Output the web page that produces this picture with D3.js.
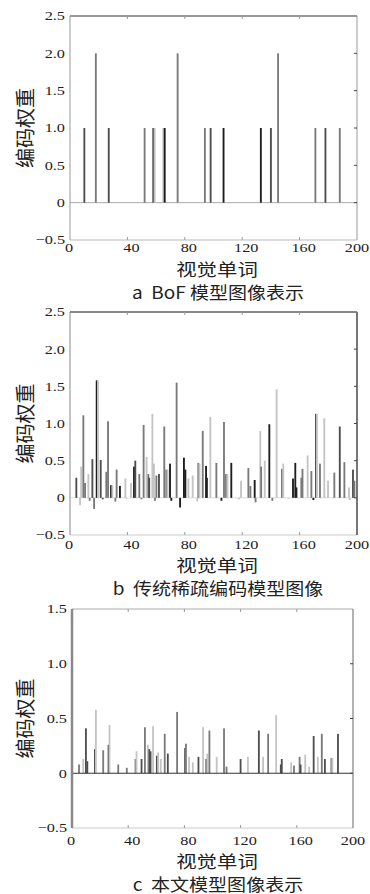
<!DOCTYPE html>
<html>
<head>
<meta charset="utf-8">
<script src="https://cdn.jsdelivr.net/npm/d3@7"></script>
<style>
  html, body { margin: 0; padding: 0; background: #fff; }
  svg { display: block; }
  .num { font-family: 'Liberation Serif', 'DejaVu Serif', serif; }
  .cjk { font-family: 'Noto Sans CJK SC', sans-serif; }
</style>
</head>
<body>
<div id="chart"></div>
<script>
// shade codes: 0 black, 1 dark gray, 2 mid gray, 3 light gray
const shadeColors = ['#1e1e1e', '#4e4e4e', '#7a7a7a', '#c4c4c4'];

const xTicks = [0, 40, 80, 120, 160, 200];
const yTicksAB = [-0.5, 0, 0.5, 1.0, 1.5, 2.0, 2.5];
const yTicksC = [-0.5, 0, 0.5, 1.0, 1.5];

// panel a: BoF
const aWords   = [10, 18, 27, 52, 58, 59, 65, 66, 75, 94, 98, 107, 133, 140, 145, 171, 178, 188];
const aWeights = [1, 2, 1, 1, 1, 1, 1, 1, 2, 1, 1, 1, 1, 1, 2, 1, 1, 1];
const aShades  = [1, 2, 1, 2, 1, 3, 3, 0, 2, 2, 1, 0, 0, 1, 2, 2, 1, 2];

// panel b: traditional sparse coding
const bWords = [4.4, 7, 7.8, 9.3, 10.5, 12.8, 13.7, 15.6, 16.8, 18.6, 19.5, 21.4, 22.8, 25.3, 26.5, 28.6, 29.5,
  31.6, 32.5, 34.8, 38.6, 39.4, 42.5, 44.6, 45.5, 48.3, 49.8, 51.3, 53.4, 54.6, 55.2, 57.4, 58.5, 59.2, 60.2,
  62, 65.7, 67.1, 68, 69.7, 70.6, 74.3, 76.7, 79.4, 80.4, 82.5, 85.5, 88.7, 89.4, 90.2, 92.5, 94.8, 95.4,
  97.8, 102, 105.5, 107.3, 108.7, 109.7, 112.4, 117.8, 119.2, 124.3, 125.7, 128.7, 129.3, 132.6, 133.2,
  135.7, 138.9, 141, 144, 147.7, 148.6, 152.4, 155.4, 157, 157.8, 161.2, 162, 165.6, 168.2, 169.6, 171.4,
  172.1, 174.2, 177.2, 179.8, 184.2, 188, 191.2, 194.4, 194.9, 197.2, 198.2];
const bWeights = [0.27, -0.1, 0.42, 1.11, 0.2, 0.32, -0.04, 0.52, -0.15, 1.58, 1.58, 0.51, -0.02, 0.35, 1.03, 0.17, 0.17,
  -0.05, 0.38, 0.16, 0.26, -0.01, 0.2, 0.42, 0.5, 0.32, -0.02, 0.98, 0.55, 0.32, 0.27, 1.13, 0.46, -0.04, 0.3,
  0.32, 0.96, 0.38, 0.38, 0.46, -0.04, 1.55, -0.13, 0.54, 0.38, 0.26, 0.3, -0.05, 0.47, 0.46, 0.9, 0.43, 0.27,
  1.09, 0.47, -0.04, 1.02, 0.32, 0.32, 0.47, -0.02, 0.23, 0.4, 0.16, 0.24, -0.06, 0.9, 0.42,
  0.5, 0.99, -0.04, 1.46, 0.39, 0.46, -0.01, 0.26, 0.47, 0.14, 0.27, 0.39, 0.57, 0.36, -0.03, 1.13,
  1.13, 0.46, 1.07, 0.23, 0.34, 0.96, 0.48, 0.14, -0.03, 0.38, 0.23];
const bShades = [1, 3, 3, 2, 2, 3, 2, 1, 2, 0, 3, 1, 1, 2, 2, 0, 3,
  2, 2, 0, 3, 3, 3, 0, 1, 2, 2, 2, 3, 2, 1, 3, 3, 2, 2,
  1, 2, 2, 3, 0, 0, 2, 0, 0, 0, 3, 3, 3, 2, 3, 2, 0, 0,
  3, 2, 0, 2, 2, 3, 0, 3, 3, 2, 2, 0, 2, 3, 2,
  3, 0, 2, 3, 2, 3, 3, 0, 0, 0, 2, 2, 3, 2, 0, 1,
  3, 2, 3, 3, 2, 1, 2, 3, 3, 1, 2];

// panel c: this paper's model
const cWords = [5, 8, 9.9, 10.9, 16.3, 17, 22.2, 26, 26.7, 32.9, 39, 45.2, 45.9, 49.5, 51.9, 54, 55, 55.9, 57.7,
  60.4, 61.3, 63.2, 66, 68.2, 74.8, 80.5, 81.1, 83.3, 86, 90, 93.3, 95.6, 96.3, 97.8, 103, 108.2, 110,
  120, 125.2, 133, 136, 139.6, 145.3, 148.6, 149.3, 156, 158, 162, 162.7, 166, 168.8, 172, 175, 177.8,
  180, 184.6, 185.3, 189.3];
const cWeights = [0.08, 0.13, 0.41, 0.11, 0.22, 0.58, 0.21, 0.26, 0.44, 0.08, 0.05, 0.13, 0.2, 0.13, 0.42, 0.26, 0.22, 0.2, 0.43,
  0.16, 0.19, 0.13, 0.36, 0.18, 0.56, 0.23, 0.27, 0.15, 0.1, 0.15, 0.42, 0.13, 0.18, 0.39, 0.15, 0.41, 0.06,
  0.13, 0.15, 0.39, 0.15, 0.36, 0.53, 0.08, 0.13, 0.1, 0.07, 0.15, 0.08, 0.17, 0.06, 0.34, 0.15, 0.36,
  0.13, 0.14, 0.14, 0.36];
const cShades = [2, 3, 1, 1, 1, 3, 2, 1, 3, 2, 2, 2, 3, 1, 2, 3, 1, 1, 3,
  1, 3, 3, 2, 1, 2, 1, 2, 3, 3, 1, 3, 1, 3, 2, 3, 2, 2,
  1, 3, 1, 3, 2, 3, 1, 1, 3, 2, 2, 1, 3, 3, 1, 3, 2,
  1, 2, 3, 1];

const panels = [
  { top: 16, bottom: 240, left: 70, right: 357, yDomain: [-0.5, 2.5], yTicks: yTicksAB,
    words: aWords, weights: aWeights, shades: aShades,
    tickY: 248, titleY: 268, capY: 291, caption: 'a\u00a0\u00a0BoF 模型图像表示',
    topColor: '#333', leftColor: '#999', rightColor: '#999', rightWidth: 1, leftWidth: 1, bottomColor: '#bbb', zeroColor: '#aaa', zeroOnTop: false },
  { top: 312, bottom: 535, left: 70, right: 357, yDomain: [-0.5, 2.5], yTicks: yTicksAB,
    words: bWords, weights: bWeights, shades: bShades,
    tickY: 545, titleY: 564, capY: 587, caption: 'b\u00a0\u00a0传统稀疏编码模型图像',
    topColor: '#111', leftColor: '#888', rightColor: '#777', rightWidth: 2, leftWidth: 1, bottomColor: '#ccc', zeroColor: '#ddd', zeroOnTop: false },
  { top: 609, bottom: 828, left: 72, right: 353, yDomain: [-0.5, 1.5], yTicks: yTicksC,
    words: cWords, weights: cWeights, shades: cShades,
    tickY: 841, titleY: 860, capY: 883, caption: 'c\u00a0\u00a0本文模型图像表示',
    topColor: '#aaa', leftColor: '#888', rightColor: '#999', rightWidth: 1.5, leftWidth: 2.5, bottomColor: '#ccc', zeroColor: '#333', zeroOnTop: true }
];

const svg = d3.select('#chart').append('svg')
  .attr('width', 370)
  .attr('height', 894);

svg.append('rect').attr('width', 370).attr('height', 894).attr('fill', '#fff');

// text stretched horizontally, like the scanned figure
function label(g, x, y, str, o) {
  return g.append('text')
    .attr('class', o.cls)
    .attr('transform', `translate(${x},${y}) scale(${o.sx || 1},1)` + (o.rot ? ` rotate(${o.rot})` : ''))
    .attr('font-size', o.size)
    .attr('fill', '#222')
    .attr('text-anchor', o.anchor || 'middle')
    .attr('dominant-baseline', 'central')
    .text(str);
}

panels.forEach(p => {
  const x = d3.scaleLinear().domain([0, 200]).range([p.left, p.right]);
  const y = d3.scaleLinear().domain(p.yDomain).range([p.bottom, p.top]);
  const g = svg.append('g');
  const barW = x(1.3) - x(0);

  const zero = () => g.append('line')
    .attr('x1', p.left).attr('x2', p.right)
    .attr('y1', y(0)).attr('y2', y(0))
    .attr('stroke', p.zeroColor).attr('stroke-width', 1);

  if (!p.zeroOnTop) zero();

  // bars
  const bars = p.words.map((w, i) => ({ w, v: p.weights[i], s: p.shades[i] }));
  g.append('g').selectAll('rect')
    .data(bars)
    .join('rect')
    .attr('x', d => x(d.w) - barW / 2)
    .attr('width', barW)
    .attr('y', d => Math.min(y(d.v), y(0)))
    .attr('height', d => Math.abs(y(d.v) - y(0)))
    .attr('fill', d => shadeColors[d.s]);

  if (p.zeroOnTop) zero();

  // frame
  g.append('line').attr('x1', p.left).attr('x2', p.right).attr('y1', p.top).attr('y2', p.top)
    .attr('stroke', p.topColor).attr('stroke-width', 1);
  g.append('line').attr('x1', p.left).attr('x2', p.right).attr('y1', p.bottom).attr('y2', p.bottom)
    .attr('stroke', p.bottomColor).attr('stroke-width', 1);
  g.append('line').attr('x1', p.left).attr('x2', p.left).attr('y1', p.top).attr('y2', p.bottom)
    .attr('stroke', p.leftColor).attr('stroke-width', p.leftWidth);
  g.append('line').attr('x1', p.right).attr('x2', p.right).attr('y1', p.top).attr('y2', p.bottom)
    .attr('stroke', p.rightColor).attr('stroke-width', p.rightWidth);

  // inward ticks
  xTicks.slice(1, -1).forEach(t => {
    g.append('line').attr('x1', x(t)).attr('x2', x(t)).attr('y1', p.top).attr('y2', p.top + 3)
      .attr('stroke', '#999');
    g.append('line').attr('x1', x(t)).attr('x2', x(t)).attr('y1', p.bottom).attr('y2', p.bottom - 3)
      .attr('stroke', '#999');
  });
  p.yTicks.slice(1, -1).forEach(t => {
    g.append('line').attr('x1', p.right).attr('x2', p.right - 3).attr('y1', y(t)).attr('y2', y(t))
      .attr('stroke', '#444');
  });

  // tick labels
  const fmt = d => d === 0 ? '0' : (d < 0 ? '\u2212' + Math.abs(d).toFixed(1) : d.toFixed(1));
  p.yTicks.forEach(t => {
    label(g, p.left - 5, y(t), fmt(t), { cls: 'num', size: 13, sx: 1.25, anchor: 'end' });
  });
  xTicks.forEach(t => {
    const dx = t === 0 ? -1 : (t === 200 ? 0 : 4);
    label(g, x(t) + dx, p.tickY, String(t), { cls: 'num', size: 13, sx: 1.25 });
  });

  // axis titles
  label(g, 24, (p.top + p.bottom) / 2, '编码权重', { cls: 'cjk', size: 20, rot: -90 });
  label(g, 217, p.titleY, '视觉单词', { cls: 'cjk', size: 17, sx: 1.2 });
  label(g, 218, p.capY, p.caption, { cls: 'cjk', size: 17, sx: 1.12 });
});
</script>
</body>
</html>
